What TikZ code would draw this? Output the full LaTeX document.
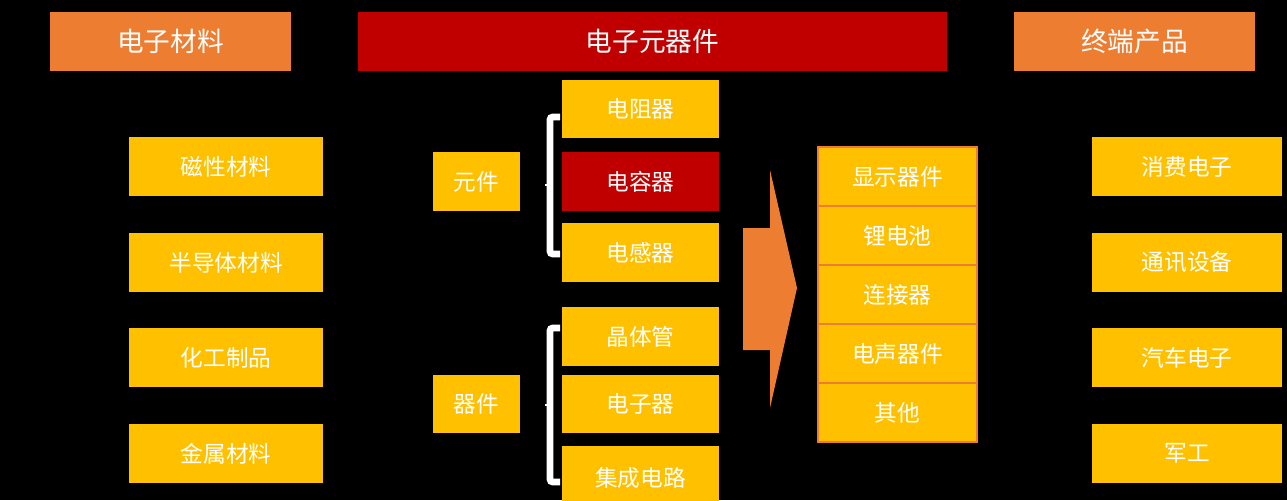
\documentclass[tikz,border=0pt]{standalone}
\usepackage{fontspec}
\newfontfamily\cjk{Noto Sans CJK SC}
\definecolor{ybox}{HTML}{FFC000}
\definecolor{obox}{HTML}{ED7D31}
\definecolor{rbox}{HTML}{C00000}
\begin{document}
\begin{tikzpicture}[x=0.75pt,y=-0.75pt,
  bx/.style={inner sep=0pt,text=white,font=\cjk\fontsize{17}{20}\selectfont},
  hd/.style={bx,font=\cjk\fontsize{20}{24}\selectfont}]
\fill[black] (0,0) rectangle (1287,500);
\useasboundingbox (0,0) rectangle (1287,500);
\newcommand\bb[6]{\fill[#6] (#2,#3) rectangle (#4,#5); \node[bx] (#1) at ({(#2+#4)/2},{(#3+#5)/2}) {#1};}
% headers
\fill[obox] (50,12) rectangle (291,71); \node[hd] (h1) at (170.5,41.5) {电子材料};
\fill[rbox] (358,12) rectangle (947,71); \node[hd] (h2) at (652.5,41.5) {电子元器件};
\fill[obox] (1014,12) rectangle (1255,71); \node[hd] (h3) at (1134.5,41.5) {终端产品};
% left
\bb{磁性材料}{129}{137}{323}{196}{ybox}
\bb{半导体材料}{129}{233}{323}{292}{ybox}
\bb{化工制品}{129}{328}{323}{387}{ybox}
\bb{金属材料}{129}{424}{323}{483}{ybox}
\bb{元件}{433}{152}{520}{211}{ybox}
\bb{器件}{433}{375}{520}{433}{ybox}
% middle
\bb{电阻器}{562}{80}{719}{138}{ybox}
\bb{电容器}{562}{152}{719}{211}{rbox}
\bb{电感器}{562}{223}{719}{282}{ybox}
\bb{晶体管}{562}{307}{719}{366}{ybox}
\bb{电子器}{562}{375}{719}{433}{ybox}
\bb{集成电路}{562}{446}{719}{510}{ybox}
% braces
\draw[white,line width=5pt,rounded corners=2pt] (560,117) -- (550,117) -- (550,254) -- (560,254);
\draw[white,line width=1.5pt] (550,185) -- (545,185);
\draw[white,line width=5pt,rounded corners=2pt] (560,328) -- (550,328) -- (550,482) -- (560,482);
\draw[white,line width=1.5pt] (550,405) -- (545,405);
% arrow
\fill[obox] (743,228) -- (770,228) -- (770,170) -- (797,288) -- (770,408) -- (770,350) -- (743,350) -- cycle;
% right list
\foreach \t [count=\i] in {显示器件,锂电池,连接器,电声器件,其他}{
  \pgfmathsetmacro\ya{147+59*(\i-1)}
  \fill[ybox,draw=obox,line width=1.5pt] (818,\ya) rectangle (977,\ya+59);
  \node[bx] (r\i) at (897.5,\ya+29.5) {\t};
}
% right column
\bb{消费电子}{1092}{137}{1282}{196}{ybox}
\bb{通讯设备}{1092}{233}{1282}{292}{ybox}
\bb{汽车电子}{1092}{328}{1282}{387}{ybox}
\bb{军工}{1092}{424}{1282}{483}{ybox}
\end{tikzpicture}
\end{document}
